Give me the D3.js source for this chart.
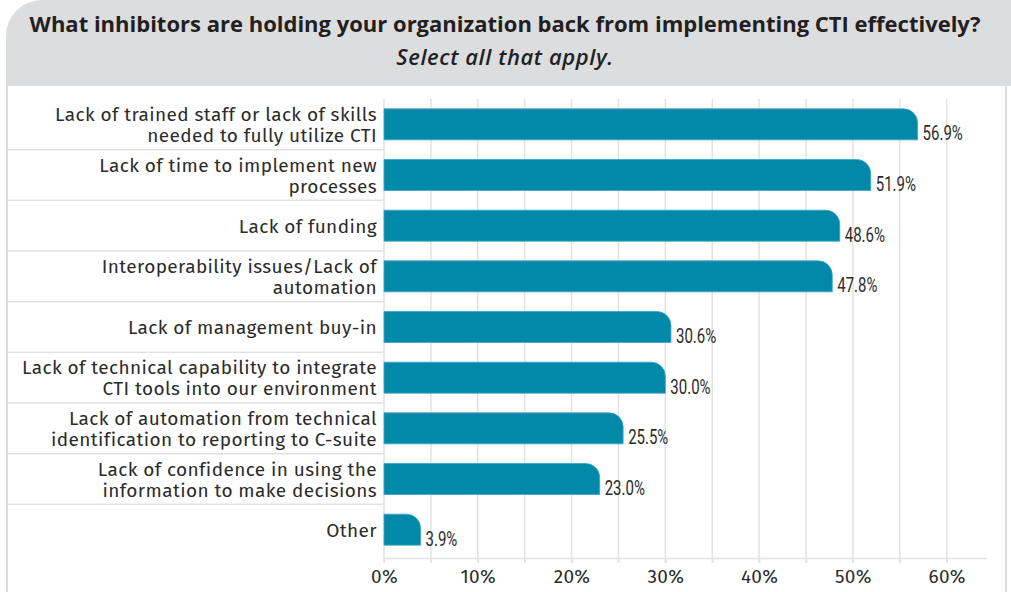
<!DOCTYPE html>
<html><head><meta charset="utf-8">
<script src="https://cdn.jsdelivr.net/npm/d3@7"></script>
<style>
html,body{margin:0;padding:0;background:#fff;}
svg{display:block;}
</style></head>
<body>
<svg id="chart" width="1011" height="592"></svg>
<script>
const titleText = "What inhibitors are holding your organization back from implementing CTI effectively?";
const subtitleText = "Select all that apply.";
const categories = [
  ["Lack of trained staff or lack of skills", "needed to fully utilize CTI"],
  ["Lack of time to implement new", "processes"],
  ["Lack of funding"],
  ["Interoperability issues/Lack of", "automation"],
  ["Lack of management buy-in"],
  ["Lack of technical capability to integrate", "CTI tools into our environment"],
  ["Lack of automation from technical", "identification to reporting to C-suite"],
  ["Lack of confidence in using the", "information to make decisions"],
  ["Other"]
];
const values = [56.9, 51.9, 48.6, 47.8, 30.6, 30.0, 25.5, 23.0, 3.9];
const tickValues = [0, 10, 20, 30, 40, 50, 60];
const gridValues = d3.range(0, 61, 5);

const svg = d3.select("#chart");
const gray = "#dcdddf";
const textCol = "#2b2b2b";
const labelFont = "'Fira Sans', 'Noto Sans', 'Open Sans', sans-serif";

// header card
svg.append("path")
  .attr("d", "M6,86 V36 A36,36 0 0 1 42,0 H1011 V86 Z")
  .attr("fill", gray);
svg.append("rect").attr("x", 6).attr("y", 40).attr("width", 2).attr("height", 552).attr("fill", gray);
svg.append("rect").attr("x", 1005).attr("y", 80).attr("width", 2).attr("height", 512).attr("fill", gray);

svg.append("text")
  .attr("x", 505).attr("y", 32)
  .attr("text-anchor", "middle")
  .attr("font-family", "'Open Sans', 'Noto Sans', sans-serif")
  .attr("font-weight", 700)
  .attr("font-size", 22)
  .attr("fill", "#231f20")
  .text(titleText);
svg.append("text")
  .attr("x", 505).attr("y", 65)
  .attr("text-anchor", "middle")
  .attr("font-family", "'Open Sans', 'Noto Sans', sans-serif")
  .attr("font-weight", 600)
  .attr("font-style", "italic")
  .attr("font-size", 22)
  .attr("letter-spacing", 0.6)
  .attr("fill", "#231f20")
  .text(subtitleText);

const idx = d3.range(values.length);
const x = d3.scaleLinear().domain([0, 64.3]).range([384, 987]);
const y = d3.scaleBand().domain(idx).range([99, 555]).padding(0);
const barH = 31;

// vertical gridlines
svg.append("g").selectAll("line").data(gridValues.filter(d => d > 0)).join("line")
  .attr("x1", d => x(d)).attr("x2", d => x(d))
  .attr("y1", 99).attr("y2", 563)
  .attr("stroke", "#e2e2e2").attr("stroke-width", 1.5);

// row separators in label area
svg.append("g").selectAll("line").data(idx.slice(1)).join("line")
  .attr("x1", 8).attr("x2", 384)
  .attr("y1", d => y(d)).attr("y2", d => y(d))
  .attr("stroke", "#e2e2e2").attr("stroke-width", 1.5);

// x axis
const xAxis = d3.axisBottom(x).tickValues(gridValues).tickSize(5).tickFormat(d => d % 10 === 0 ? d + "%" : "");
const gx = svg.append("g").attr("transform", "translate(0,558)").call(xAxis);
gx.select(".domain").attr("d", `M${x(0)},0.5H987`).attr("stroke", "#e2e2e2").attr("stroke-width", 1.5);
gx.selectAll(".tick line").attr("stroke", "#e2e2e2").attr("stroke-width", 1.5);
gx.selectAll(".tick text")
  .attr("y", 12)
  .attr("font-family", labelFont)
  .attr("font-size", 19)
  .attr("letter-spacing", 0.3)
  .attr("fill", textCol);

// left axis line
svg.append("line").attr("x1", x(0)).attr("x2", x(0)).attr("y1", 99).attr("y2", 563)
  .attr("stroke", "#e2e2e2").attr("stroke-width", 1.5);

// bars
const r = 14;
function barPath(v, i) {
  const x0 = x(0), x1 = x(v);
  const y0 = y(i) + (y.bandwidth() - barH) / 2, y1 = y0 + barH;
  const rr = Math.min(r, (x1 - x0));
  return `M${x0},${y0} H${x1 - rr} A${rr},${rr} 0 0 1 ${x1},${y0 + rr} V${y1} H${x0} Z`;
}
svg.append("g").selectAll("path").data(values).join("path")
  .attr("d", (d, i) => barPath(d, i))
  .attr("fill", "#0289a9")
  .attr("stroke", "#3ba4bf").attr("stroke-width", 0.8);

// value labels (condensed)
svg.append("g").selectAll("text").data(values).join("text")
  .attr("transform", (d, i) => `translate(${x(d) + 5},${y(i) + (y.bandwidth() + barH) / 2 + 0.5}) scale(0.75,1)`)
  .attr("font-family", "Roboto, 'Noto Sans', sans-serif")
  .attr("font-size", 20)
  .attr("fill", textCol)
  .text(d => d.toFixed(1) + "%");

// category labels
const lab = svg.append("g").selectAll("text").data(categories).join("text")
  .attr("text-anchor", "end")
  .attr("font-family", labelFont)
  .attr("font-size", 19)
  .attr("letter-spacing", 0.4)
  .attr("fill", textCol);
lab.each(function(lines, i) {
  const c = y(i) + y.bandwidth() / 2;
  const base = c + 7 - (lines.length - 1) * 21 / 2;
  d3.select(this).selectAll("tspan").data(lines).join("tspan")
    .attr("x", 377)
    .attr("y", (d, j) => base + j * 21)
    .text(d => d);
});
</script>
</body></html>
